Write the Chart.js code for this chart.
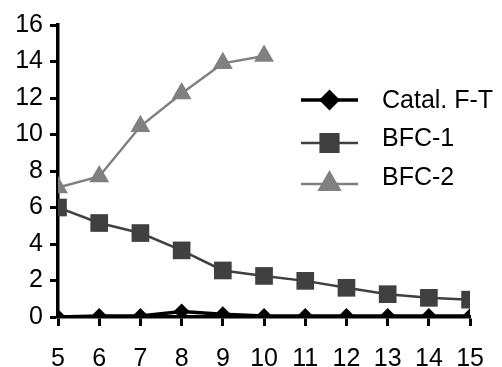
<!DOCTYPE html>
<html>
<head>
<meta charset="utf-8">
<script src="https://cdn.jsdelivr.net/npm/chart.js@4/dist/chart.umd.min.js"></script>
<style>
  html, body { margin: 0; padding: 0; background: #fff; }
  #wrap { width: 502px; height: 367px; }
</style>
</head>
<body>
<div id="wrap"><canvas id="myChart" width="502" height="367"></canvas></div>
<script>
var xValues = [5, 6, 7, 8, 9, 10, 11, 12, 13, 14, 15];
var catal = [0, 0.05, 0.05, 0.3, 0.15, 0.05, 0.05, 0.05, 0.05, 0.05, 0.05];
var bfc1 = [6.0, 5.15, 4.6, 3.65, 2.55, 2.25, 1.98, 1.6, 1.25, 1.05, 0.95];
var bfc2 = [7.1, 7.7, 10.45, 12.25, 13.9, 14.3];
var yMin = 0, yMax = 16, yStep = 2;

var fontFamily = '"Liberation Sans", Arial, sans-serif';

function toPoints(ys) {
    var pts = [];
    for (var i = 0; i < ys.length; i++) {
        pts.push({ x: xValues[i], y: ys[i] });
    }
    return pts;
}

// legend drawn inside the plot, to the right of the BFC-2 curve
var innerLegend = {
    id: 'innerLegend',
    afterDatasetsDraw: function (chart) {
        var ctx = chart.ctx;
        var lineRows = [100, 143, 184];
        var textRows = [101, 139, 178];
        chart.data.datasets.forEach(function (ds, i) {
            var y = lineRows[i];
            ctx.save();
            ctx.strokeStyle = ds.borderColor;
            ctx.lineWidth = ds.borderWidth;
            ctx.beginPath();
            ctx.moveTo(301, y);
            ctx.lineTo(358, y);
            ctx.stroke();
            ctx.fillStyle = ds.pointBackgroundColor;
            ctx.strokeStyle = ds.pointBackgroundColor;
            Chart.helpers.drawPoint(ctx, {
                pointStyle: ds.pointStyle,
                radius: ds.pointRadius,
                borderWidth: 0.01
            }, 329.5, y);
            ctx.fillStyle = '#000';
            ctx.font = '25px ' + fontFamily;
            ctx.textBaseline = 'middle';
            ctx.textAlign = 'left';
            ctx.fillText(ds.label, 382, textRows[i]);
            ctx.restore();
        });
    }
};

// thick black axis with short outward tick marks, no grid inside the plot
var axisGrid = function (len) {
    return { drawOnChartArea: false, tickLength: len, tickColor: '#000', tickWidth: 3 };
};

var ctx = document.getElementById('myChart').getContext('2d');
var chart = new Chart(ctx, {
    type: 'line',
    data: {
        datasets: [{
            label: 'Catal. F-T',
            data: toPoints(catal),
            borderColor: '#000000',
            borderWidth: 3.5,
            pointStyle: 'rectRot',
            pointRadius: 8,
            pointBackgroundColor: '#000000',
            pointBorderColor: '#000000',
            pointBorderWidth: 0
        }, {
            label: 'BFC-1',
            data: toPoints(bfc1),
            borderColor: '#404040',
            borderWidth: 2.5,
            pointStyle: 'rect',
            pointRadius: 12.5,
            pointBackgroundColor: '#404040',
            pointBorderColor: '#404040',
            pointBorderWidth: 0
        }, {
            label: 'BFC-2',
            data: toPoints(bfc2),
            borderColor: '#808080',
            borderWidth: 2.5,
            pointStyle: 'triangle',
            pointRadius: 11.5,
            pointBackgroundColor: '#808080',
            pointBorderColor: '#808080',
            pointBorderWidth: 0
        }]
    },
    options: {
        responsive: false,
        animation: false,
        layout: { padding: { top: 25, right: 9, left: 0, bottom: 0 } },
        plugins: {
            legend: { display: false },
            tooltip: { enabled: false }
        },
        scales: {
            x: {
                type: 'linear',
                min: xValues[0],
                max: xValues[xValues.length - 1],
                afterFit: function (scale) { scale.height = 50; },
                border: { display: true, color: '#000', width: 3.5 },
                grid: axisGrid(9),
                ticks: {
                    color: '#000',
                    stepSize: 1,
                    padding: 18,
                    maxRotation: 0,
                    autoSkip: false,
                    font: { family: fontFamily, size: 25 }
                }
            },
            y: {
                min: yMin,
                max: yMax,
                afterFit: function (scale) { scale.width = 58; },
                border: { display: true, color: '#000', width: 3.5 },
                grid: axisGrid(8),
                ticks: {
                    color: '#000',
                    stepSize: yStep,
                    padding: 7,
                    font: { family: fontFamily, size: 25 }
                }
            }
        }
    },
    plugins: [innerLegend]
});
</script>
</body>
</html>
